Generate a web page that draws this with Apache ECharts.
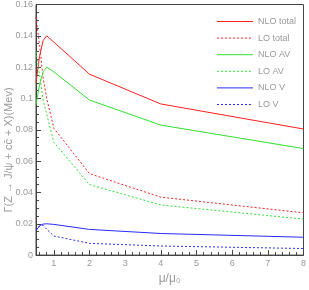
<!DOCTYPE html>
<html><head><meta charset="utf-8">
<script src="https://cdn.jsdelivr.net/npm/echarts@6/dist/echarts.min.js"></script>
<style>html,body{margin:0;padding:0;background:#fff}#c{width:309px;height:290px}</style>
</head><body><div id="c"></div>
<script>
const muValues = [0.5, 0.6, 0.7, 0.8, 1, 2, 4, 8];
const nloTotal = [0.110, 0.127, 0.137, 0.140, 0.136, 0.1155, 0.0965, 0.0805];
const loTotal  = [0.152, 0.134, 0.113, 0.100, 0.081, 0.052, 0.037, 0.027];
const nloAV    = [0.096, 0.109, 0.117, 0.120, 0.117, 0.099, 0.083, 0.068];
const loAV     = [0.130, 0.115, 0.099, 0.090, 0.072, 0.045, 0.032, 0.023];
const nloV     = [0.0155, 0.0188, 0.0198, 0.0200, 0.0196, 0.0164, 0.0138, 0.0114];
const loV      = [0.016, 0.0185, 0.019, 0.0165, 0.0122, 0.0075, 0.0058, 0.0042];
const seriesNames = ['NLO total', 'LO total', 'NLO AV', 'LO AV', 'NLO V', 'LO V'];
const xMajorTicks = [1, 2, 3, 4, 5, 6, 7, 8];
const xMinorTicks = [0.6, 0.8, 1.2, 1.4, 1.6, 1.8, 2.2, 2.4, 2.6, 2.8, 3.2, 3.4, 3.6, 3.8,
  4.2, 4.4, 4.6, 4.8, 5.2, 5.4, 5.6, 5.8, 6.2, 6.4, 6.6, 6.8, 7.2, 7.4, 7.6, 7.8];
const yTitle = 'Γ(Z → J/ψ + cc̄ + X)(Mev)';
const xTitle = 'μ/μ₀';

const RED = '#ff2020', GREEN = '#30e030', BLUE = '#2a2aff';
const cfg = [
  [nloTotal, RED, 'solid'], [loTotal, RED, [2, 2]],
  [nloAV, GREEN, 'solid'], [loAV, GREEN, [2, 2]],
  [nloV, BLUE, 'solid'], [loV, BLUE, [2, 2]]
];
const font = 'Liberation Sans, Arial, sans-serif';
const chart = echarts.init(document.getElementById('c'), null, {renderer: 'canvas'});
chart.setOption({
  animation: false,
  grid: {left: 36, right: 3, top: 4, bottom: 20, show: true, borderColor: '#444', borderWidth: 1},
  legend: {
    orient: 'vertical', right: 8, top: 12, itemWidth: 36, itemHeight: 9, itemGap: 7.6,
    textStyle: {color: '#999', fontSize: 9, fontFamily: font},
    itemStyle: {opacity: 0},
    lineStyle: {width: 1, color: 'inherit', type: 'inherit', opacity: 1},
    data: seriesNames
  },
  xAxis: [{
    type: 'value', min: 0.5, max: 8, position: 'bottom',
    axisLine: {lineStyle: {color: '#444'}},
    axisTick: {inside: true, length: 5, lineStyle: {color: '#444'}, customValues: xMajorTicks},
    splitLine: {show: false},
    axisLabel: {color: '#999', fontSize: 9, fontFamily: font, margin: 4, customValues: xMajorTicks},
    name: xTitle, nameLocation: 'middle', nameGap: 15,
    nameTextStyle: {color: '#999', fontSize: 12, fontFamily: font}
  }, {
    type: 'value', min: 0.5, max: 8, position: 'bottom', offset: 0,
    axisLine: {show: false},
    axisTick: {inside: true, length: 3, lineStyle: {color: '#444'}, customValues: xMinorTicks},
    splitLine: {show: false},
    axisLabel: {show: false}
  }],
  yAxis: {
    type: 'value', min: 0, max: 0.16, interval: 0.02,
    axisLine: {lineStyle: {color: '#444'}},
    axisTick: {inside: true, length: 5, lineStyle: {color: '#444'}},
    minorTick: {show: true, splitNumber: 4, length: 3, lineStyle: {color: '#444'}},
    splitLine: {show: false},
    axisLabel: {color: '#999', fontSize: 9, fontFamily: font, margin: 3,
      formatter: v => (v === 0 ? '0' : String(+v.toFixed(2)))}
  },
  graphic: [{
    type: 'text', x: 3, y: 150, rotation: Math.PI / 2,
    style: {text: yTitle, fill: '#999', font: '11px ' + font, textAlign: 'center', textVerticalAlign: 'top'}
  }],
  series: cfg.map((c, i) => ({
    name: seriesNames[i], type: 'line', symbol: 'none', smooth: false, xAxisIndex: 0,
    data: muValues.map((x, j) => [x, c[0][j]]),
    lineStyle: {color: c[1], width: 1, type: c[2]},
    itemStyle: {color: c[1]}
  }))
});
</script></body></html>
